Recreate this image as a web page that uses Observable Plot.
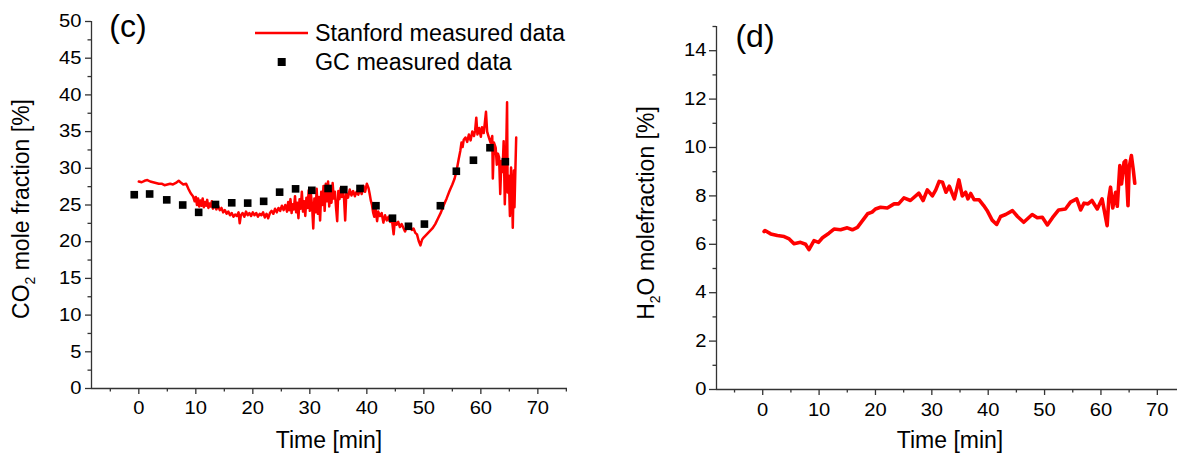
<!DOCTYPE html>
<html><head><meta charset="utf-8">
<script src="https://cdn.jsdelivr.net/npm/d3@7"></script>
<script src="https://cdn.jsdelivr.net/npm/@observablehq/plot@0.6"></script>
<style>
body{margin:0;background:#fff;}
#wrap{position:relative;width:1177px;height:453px;overflow:hidden;font-family:"Liberation Sans",Arial,sans-serif;}
#left{position:absolute;left:0;top:0;width:590px;}
#right{position:absolute;left:590px;top:0;width:620px;}
#wrap svg{max-width:none !important;}
</style></head><body><div id="wrap"><div id="left"></div><div id="right"></div>
<svg id="legend" width="600" height="90" style="position:absolute;left:0;top:0;overflow:visible"></svg>
</div>
<script>
// ---- data ----
const co2Time = [0,0.5,1,1.5,2,2.5,3,3.5,4,4.5,5,5.5,6,6.5,7,7.3,7.8,8.3,8.7,9.1,9.5,9.8,10.0,10.2,10.4,10.6,
10.8,11.0,11.2,11.4,11.6,11.8,12.0,12.2,12.4,12.6,12.8,13.0,13.3,13.6,13.9,14.2,14.5,14.8,15.1,15.4,15.7,16.0,16.3,16.6,16.9,17.2,17.5,17.7,17.9,
18.2,18.5,18.8,19.1,19.4,19.7,20.0,20.3,20.6,20.9,21.2,21.5,21.8,22.1,22.4,22.7,23.0,23.3,23.6,23.9,24.2,24.5,24.8,25.1,25.4,25.7,26.0,26.2,26.4,26.6,26.8,
27.0,27.2,27.4,27.6,27.8,28.0,28.2,28.4,28.6,28.8,29.0,29.2,29.4,29.6,29.8,30.0,30.2,30.4,30.6,30.8,31.0,31.2,31.4,31.6,31.8,32.0,32.2,32.4,32.6,32.8,
33.0,33.2,33.4,33.6,33.8,34.0,34.2,34.4,34.6,34.8,35.0,35.2,35.4,35.6,35.8,36.0,36.2,36.4,36.7,37.0,37.3,37.6,37.9,38.2,38.5,38.8,39.1,39.4,39.7,40.0,
40.3,40.5,40.7,40.9,41.1,41.3,41.5,41.8,42.0,42.3,42.6,42.9,43.2,43.5,43.8,44.1,44.4,44.7,44.9,45.2,45.5,45.8,46.1,46.4,46.7,47.0,47.3,47.6,47.9,48.2,
48.5,48.8,49.1,49.4,49.7,50.0,50.5,51.0,51.5,52.0,52.5,53.0,53.5,54.0,54.5,55.0,55.4,55.8,56.1,56.4,56.6,56.8,57.0,57.3,57.6,57.9,58.2,58.5,58.8,59.0,
59.2,59.4,59.7,60.0,60.2,60.5,60.7,60.9,61.1,61.4,61.7,62.0,62.1,62.3,62.6,62.8,63.0,63.2,63.4,63.6,63.8,64.0,64.2,64.4,64.6,64.7,64.9,65.1,65.3,65.5,
65.6,65.8,65.9,66.0,66.2];
const co2Value = [28.2,28.1,28.3,28.4,28.2,28.1,28.0,27.9,27.9,27.7,27.8,27.9,27.8,28.0,28.3,28.1,27.8,27.9,27.2,26.6,26.2,25.5,26.1,25.0,25.9,24.8,
25.6,24.9,25.9,24.7,25.4,24.9,25.7,24.6,25.2,24.8,25.5,24.5,25.1,24.4,24.9,24.3,24.6,24.0,24.3,23.8,24.1,23.6,23.9,23.4,23.7,23.5,24.0,22.5,23.6,
23.9,23.4,24.1,23.6,23.9,23.5,24.0,23.6,23.9,23.4,23.8,23.6,24.0,23.3,23.8,23.2,23.9,24.2,23.8,24.5,24.0,24.6,24.2,24.9,24.3,25.0,24.1,25.4,24.3,25.8,23.9,
25.1,24.4,26.2,24.0,25.3,23.2,25.8,24.5,26.8,24.1,25.5,23.5,26.0,24.6,27.0,24.2,26.4,24.8,21.8,25.9,24.0,27.2,23.8,26.1,22.9,26.8,25.0,27.6,24.2,27.9,
25.5,28.2,24.8,27.0,25.3,28.0,25.9,26.8,24.6,22.8,26.9,25.8,27.3,26.1,27.0,25.9,22.9,26.6,26.0,27.1,26.3,26.9,26.2,26.8,26.4,27.2,26.5,27.6,26.8,27.9,
27.3,26.5,25.6,25.0,24.0,23.4,24.7,22.8,24.1,23.5,23.9,22.6,23.6,22.9,23.4,22.7,23.0,21.0,22.8,22.3,22.7,22.0,22.4,21.9,21.4,22.0,21.8,22.1,21.6,21.8,
21.2,21.0,20.1,19.5,20.3,20.6,21.0,21.4,21.8,22.4,23.2,24.0,25.0,25.9,26.9,27.8,28.6,29.9,31.2,32.4,33.5,32.9,33.9,34.2,33.6,34.6,33.8,35.0,34.4,35.2,
36.9,34.6,35.5,34.3,35.6,34.8,36.2,37.7,35.0,34.2,33.5,34.4,28.6,33.5,32.8,30.5,32.0,31.5,26.5,31.0,29.5,33.7,25.1,30.5,39.0,26.7,29.0,23.5,30.1,26.0,
21.9,29.7,24.7,28.0,34.2];
const gcTime = [-0.8,1.9,4.9,7.7,10.5,13.45,16.3,19.1,21.9,24.7,27.5,30.35,33.2,35.96,38.8,41.6,44.5,47.3,50.1,52.9,55.7,58.7,61.6,64.3];
const gcValue = [26.4,26.5,25.7,25.0,24.0,25.07,25.3,25.26,25.5,26.75,27.2,27.0,27.25,27.1,27.25,24.9,23.2,22.1,22.4,24.9,29.6,31.1,32.8,30.9];

const h2oTime = [0.24,0.4,1.42,2.6,3.8,4.7,5.55,6.7,7.6,8.2,9.1,9.9,10.6,11.75,12.65,13.8,15.0,15.9,16.8,17.7,18.6,19.4,20.0,20.9,22.1,23.3,24.1,25.05,26.2,27.7,
28.45,29.2,30.1,30.7,31.3,31.9,32.5,33.1,34.0,34.8,35.4,36.0,36.4,36.9,37.5,38.4,39.2,39.8,40.7,41.5,42.2,43.1,44.3,45.2,46.3,47.8,48.7,49.6,50.5,51.4,
52.5,53.7,54.6,55.7,56.4,57.0,57.7,58.4,59.35,60.2,61.1,61.4,61.7,62.1,62.6,62.9,63.35,63.65,64.1,64.4,64.8,65.0,65.4,65.75,66.0];
const h2oValue = [6.53,6.57,6.43,6.36,6.32,6.22,6.02,6.08,6.0,5.78,6.15,6.08,6.27,6.46,6.63,6.6,6.68,6.6,6.7,6.98,7.26,7.33,7.46,7.53,7.5,7.67,7.67,7.92,7.81,8.11,
7.81,8.25,8.0,8.25,8.6,8.56,8.15,8.4,7.88,8.66,8.0,8.15,7.88,8.1,7.84,7.84,7.6,7.4,7.0,6.82,7.15,7.23,7.39,7.15,6.91,7.23,7.1,7.12,6.8,7.1,
7.42,7.46,7.74,7.88,7.42,7.7,7.67,7.81,7.46,7.88,6.77,7.9,8.36,7.5,8.15,7.57,9.25,8.49,9.39,9.46,7.6,9.18,9.67,9.05,8.52];

const xMajorTicks = [0,10,20,30,40,50,60,70];
const xMinorTicks = [-5,5,15,25,35,45,55,65,75];
const co2MajorTicks = [0,5,10,15,20,25,30,35,40,45,50];
const co2MinorTicks = [2.5,7.5,12.5,17.5,22.5,27.5,32.5,37.5,42.5,47.5];
const h2oMajorTicks = [0,2,4,6,8,10,12,14];
const h2oMinorTicks = [1,3,5,7,9,11,13,15];

// ---- build tables ----
const co2 = co2Time.map((t,i)=>({t, v:co2Value[i]}));
const gc = gcTime.map((t,i)=>({t, v:gcValue[i]}));
const h2o = h2oTime.map((t,i)=>({t, v:h2oValue[i]}));

const AX = "#333";
const FONT = '"Liberation Sans", Arial, sans-serif';

function axes(xDomainMin, yMajor, yMinor, tickY, padY, padX){
  return [
    Plot.ruleY([0], {stroke: AX, strokeWidth: 1.3}),
    Plot.ruleX([xDomainMin], {stroke: AX, strokeWidth: 1.3}),
    Plot.axisX(xMajorTicks, {tickSize: 6, tickPadding: padX, stroke: AX, strokeWidth: 1.3, fill: "#000", fontSize: 18, label: null}),
    Plot.axisX(xMinorTicks, {tickSize: 3.5, stroke: AX, strokeWidth: 1.3, text: null, label: null}),
    Plot.axisY(yMajor, {tickSize: tickY, tickPadding: padY, stroke: AX, strokeWidth: 1.3, fill: "#000", fontSize: 18, label: null}),
    Plot.axisY(yMinor, {tickSize: 3.5, stroke: AX, strokeWidth: 1.3, text: null, label: null})
  ];
}

// widen tick labels slightly (horizontal only), as in the reference
function widenTicks(svg, sx){
  svg.querySelectorAll('g[aria-label$="tick label"] text').forEach(t => {
    const x = parseFloat(t.getAttribute("x")) || 0;
    const tr = t.getAttribute("transform") || "";
    t.setAttribute("transform", `${tr} translate(${x},0) scale(${sx},1) translate(${-x},0)`);
  });
}

const left = Plot.plot({
  width: 590, height: 453,
  marginLeft: 91, marginRight: 23, marginTop: 21, marginBottom: 65,
  style: {fontFamily: FONT, fontSize: "18px", color: "#000", background: "transparent", overflow: "visible", maxWidth: "none"},
  x: {domain: [-8.3, 75.2]},
  y: {domain: [0, 50]},
  marks: [
    ...axes(-8.3, co2MajorTicks, co2MinorTicks, 6, 4, 7),
    Plot.line(co2, {x: "t", y: "v", stroke: "#ff0000", strokeWidth: 2.5}),
    Plot.dot(gc, {x: "t", y: "v", symbol: "square", r: 4.3, fill: "#000", stroke: "none"})
  ]
});
widenTicks(left, 1.12);
document.getElementById("left").appendChild(left);

const right = Plot.plot({
  width: 620, height: 453,
  marginLeft: 126, marginRight: 25, marginTop: 26, marginBottom: 64,
  style: {fontFamily: FONT, fontSize: "18px", color: "#000", background: "transparent", overflow: "visible", maxWidth: "none"},
  x: {domain: [-8.2, 75]},
  y: {domain: [0, 15]},
  marks: [
    ...axes(-8.2, h2oMajorTicks, h2oMinorTicks, 7, 3, 8),
    Plot.line(h2o, {x: "t", y: "v", stroke: "#ff0000", strokeWidth: 3.6, strokeLinejoin: "round"})
  ]
});
widenTicks(right, 1.12);
document.getElementById("right").appendChild(right);

// ---- titles, panel letters ----
function addText(svg, x, y, size, parts, rotate){
  const t = d3.select(svg).append("text")
    .attr("transform", `translate(${x},${y})` + (rotate ? " rotate(-90)" : ""))
    .attr("text-anchor", "middle")
    .attr("fill", "#000")
    .style("font-family", FONT)
    .style("font-size", size + "px");
  parts.forEach(p => {
    const s = t.append("tspan").text(p.text);
    if (p.sub) s.attr("font-size", Math.round(size*0.62)).attr("dy", size*0.28);
    if (p.after) s.attr("dy", -size*0.28);
  });
  return t;
}
addText(left, 329, 448, 23, [{text:"Time [min]"}]);
addText(right, 360, 448, 23, [{text:"Time [min]"}]);
addText(left, 29, 209, 23, [{text:"CO"},{text:"2",sub:true},{text:" mole fraction [%]",after:true}], true);
addText(right, 64, 213, 23, [{text:"H"},{text:"2",sub:true},{text:"O molefraction [%]",after:true}], true);
addText(left, 128, 37, 32, [{text:"(c)"}]);
addText(right, 165, 47, 32, [{text:"(d)"}]);

// ---- legend ----
const lg = d3.select("#legend");
lg.append("line").attr("x1",255).attr("x2",308).attr("y1",33).attr("y2",33).attr("stroke","#ff0000").attr("stroke-width",2.5);
lg.append("rect").attr("x",277.7).attr("y",58).attr("width",8).attr("height",8).attr("fill","#000");
lg.append("text").attr("x",315).attr("y",41).style("font-family",FONT).style("font-size","23.3px").text("Stanford measured data");
lg.append("text").attr("x",315).attr("y",70).style("font-family",FONT).style("font-size","23.3px").text("GC measured data");
</script></body></html>
